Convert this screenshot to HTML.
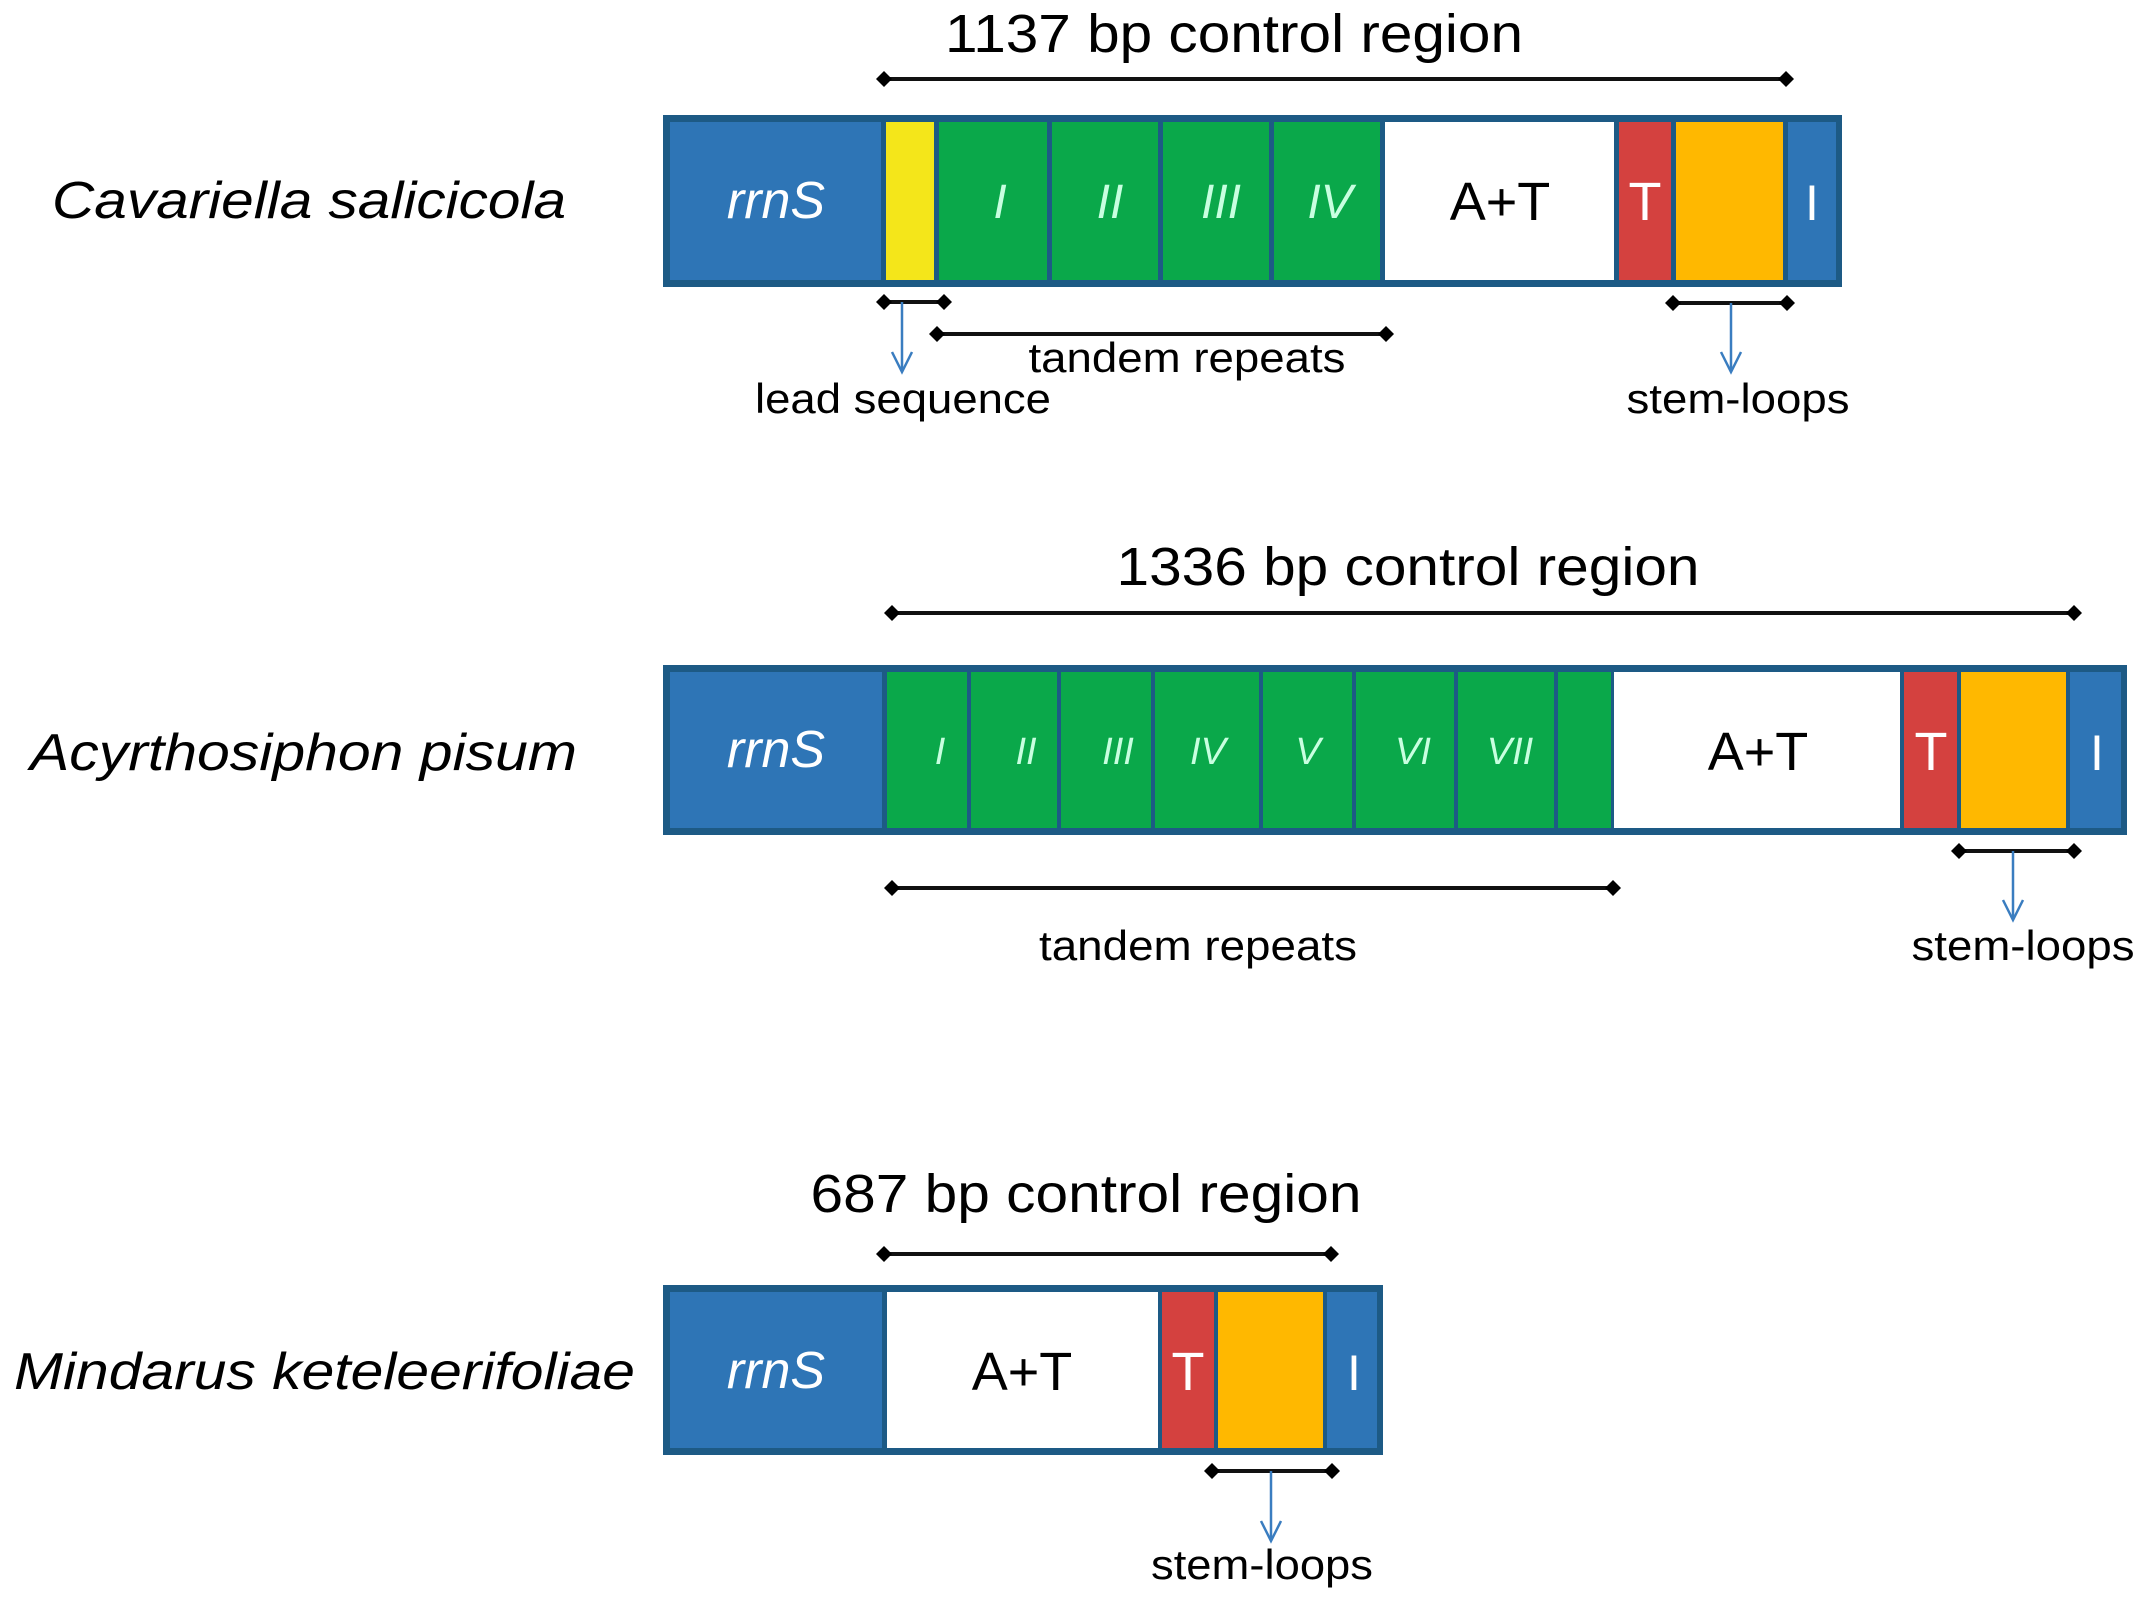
<!DOCTYPE html>
<html><head><meta charset="utf-8"><style>
html,body{margin:0;padding:0;background:#fff;}
svg{display:block;}
text{font-family:"Liberation Sans",Arial,sans-serif;}
</style></head><body>
<svg width="2149" height="1605" viewBox="0 0 2149 1605" xmlns="http://www.w3.org/2000/svg">
<defs>
<marker id="dot" viewBox="0 0 10 10" refX="5" refY="5" markerWidth="4" markerHeight="4"><path d="M5 0 L10 5 L5 10 L0 5 Z" fill="#000"/></marker>
</defs>
<g font-family="Liberation Sans, Arial, sans-serif">

<!-- ROW 1 -->
<text x="1234" y="52" font-size="54" text-anchor="middle" textLength="578" lengthAdjust="spacingAndGlyphs">1137 bp control region</text>
<line x1="884" y1="79" x2="1786" y2="79" stroke="#111" stroke-width="4" marker-start="url(#dot)" marker-end="url(#dot)"/>
<rect x="663" y="115" width="1179" height="172" fill="#1d5a85"/>
<rect x="670" y="122" width="211" height="158" fill="#2e75b6"/>
<rect x="886" y="122" width="48" height="158" fill="#f4e61a"/>
<rect x="939" y="122" width="108" height="158" fill="#0aa84a"/>
<rect x="1052" y="122" width="106" height="158" fill="#0aa84a"/>
<rect x="1163" y="122" width="106" height="158" fill="#0aa84a"/>
<rect x="1274" y="122" width="106" height="158" fill="#0aa84a"/>
<rect x="1385" y="122" width="229" height="158" fill="#fff"/>
<rect x="1619" y="122" width="52" height="158" fill="#d4413f"/>
<rect x="1676" y="122" width="107" height="158" fill="#ffb800"/>
<rect x="1788" y="122" width="48" height="158" fill="#2e75b6"/>
<text x="776" y="218" font-size="52" fill="#fff" font-style="italic" text-anchor="middle">rrnS</text>
<g font-size="48" fill="#c8ffe0" font-style="italic" text-anchor="middle">
<text x="1000" y="218">I</text><text x="1110" y="218">II</text><text x="1221" y="218">III</text><text x="1330" y="218">IV</text>
</g>
<text x="1500" y="220" font-size="54" text-anchor="middle">A+T</text>
<text x="1645" y="220" font-size="54" fill="#fff" text-anchor="middle">T</text>
<text x="1812" y="220" font-size="50" fill="#fff" text-anchor="middle">I</text>
<text x="52" y="218" font-size="52" font-style="italic" textLength="514" lengthAdjust="spacingAndGlyphs">Cavariella salicicola</text>
<line x1="884" y1="302" x2="944" y2="302" stroke="#111" stroke-width="4" marker-start="url(#dot)" marker-end="url(#dot)"/>
<line x1="902" y1="302" x2="902" y2="372" stroke="#3a7dc0" stroke-width="2.5"/>
<path d="M892 352 L902 372 L912 352" fill="none" stroke="#3a7dc0" stroke-width="2.5"/>
<line x1="937" y1="334" x2="1386" y2="334" stroke="#111" stroke-width="4" marker-start="url(#dot)" marker-end="url(#dot)"/>
<text x="1187" y="372" font-size="42" text-anchor="middle" textLength="317" lengthAdjust="spacingAndGlyphs">tandem repeats</text>
<text x="903" y="413" font-size="42" text-anchor="middle" textLength="296" lengthAdjust="spacingAndGlyphs">lead sequence</text>
<line x1="1673" y1="303" x2="1787" y2="303" stroke="#111" stroke-width="4" marker-start="url(#dot)" marker-end="url(#dot)"/>
<line x1="1731" y1="303" x2="1731" y2="372" stroke="#3a7dc0" stroke-width="2.5"/>
<path d="M1721 352 L1731 372 L1741 352" fill="none" stroke="#3a7dc0" stroke-width="2.5"/>
<text x="1738" y="413" font-size="42" text-anchor="middle" textLength="223" lengthAdjust="spacingAndGlyphs">stem-loops</text>

<!-- ROW 2 -->
<text x="1408" y="585" font-size="54" text-anchor="middle" textLength="583" lengthAdjust="spacingAndGlyphs">1336 bp control region</text>
<line x1="892" y1="613" x2="2074" y2="613" stroke="#111" stroke-width="4" marker-start="url(#dot)" marker-end="url(#dot)"/>
<rect x="663" y="665" width="1464" height="170" fill="#1d5a85"/>
<rect x="670" y="672" width="212" height="156" fill="#2e75b6"/>
<rect x="887" y="672" width="80" height="156" fill="#0aa84a"/>
<rect x="971" y="672" width="86" height="156" fill="#0aa84a"/>
<rect x="1061" y="672" width="90" height="156" fill="#0aa84a"/>
<rect x="1155" y="672" width="104" height="156" fill="#0aa84a"/>
<rect x="1263" y="672" width="89" height="156" fill="#0aa84a"/>
<rect x="1356" y="672" width="98" height="156" fill="#0aa84a"/>
<rect x="1458" y="672" width="96" height="156" fill="#0aa84a"/>
<rect x="1558" y="672" width="53" height="156" fill="#0aa84a"/>
<rect x="1614" y="672" width="286" height="156" fill="#fff"/>
<rect x="1904" y="672" width="53" height="156" fill="#d4413f"/>
<rect x="1961" y="672" width="105" height="156" fill="#ffb800"/>
<rect x="2070" y="672" width="51" height="156" fill="#2e75b6"/>
<text x="776" y="767" font-size="52" fill="#fff" font-style="italic" text-anchor="middle">rrnS</text>
<g font-size="38" fill="#c8ffe0" font-style="italic" text-anchor="middle">
<text x="940" y="764">I</text><text x="1026" y="764">II</text><text x="1118" y="764">III</text><text x="1208" y="764">IV</text><text x="1308" y="764">V</text><text x="1413" y="764">VI</text><text x="1510" y="764">VII</text>
</g>
<text x="1758" y="770" font-size="54" text-anchor="middle">A+T</text>
<text x="1931" y="770" font-size="54" fill="#fff" text-anchor="middle">T</text>
<text x="2097" y="770" font-size="50" fill="#fff" text-anchor="middle">I</text>
<text x="30" y="770" font-size="52" font-style="italic" textLength="547" lengthAdjust="spacingAndGlyphs">Acyrthosiphon pisum</text>
<line x1="892" y1="888" x2="1613" y2="888" stroke="#111" stroke-width="4" marker-start="url(#dot)" marker-end="url(#dot)"/>
<text x="1198" y="960" font-size="42" text-anchor="middle" textLength="318" lengthAdjust="spacingAndGlyphs">tandem repeats</text>
<line x1="1959" y1="851" x2="2074" y2="851" stroke="#111" stroke-width="4" marker-start="url(#dot)" marker-end="url(#dot)"/>
<line x1="2013" y1="851" x2="2013" y2="920" stroke="#3a7dc0" stroke-width="2.5"/>
<path d="M2003 900 L2013 920 L2023 900" fill="none" stroke="#3a7dc0" stroke-width="2.5"/>
<text x="2023" y="960" font-size="42" text-anchor="middle" textLength="223" lengthAdjust="spacingAndGlyphs">stem-loops</text>

<!-- ROW 3 -->
<text x="1086" y="1212" font-size="54" text-anchor="middle" textLength="551" lengthAdjust="spacingAndGlyphs">687 bp control region</text>
<line x1="884" y1="1254" x2="1331" y2="1254" stroke="#111" stroke-width="4" marker-start="url(#dot)" marker-end="url(#dot)"/>
<rect x="663" y="1285" width="720" height="170" fill="#1d5a85"/>
<rect x="670" y="1292" width="212" height="156" fill="#2e75b6"/>
<rect x="887" y="1292" width="271" height="156" fill="#fff"/>
<rect x="1162" y="1292" width="52" height="156" fill="#d4413f"/>
<rect x="1218" y="1292" width="105" height="156" fill="#ffb800"/>
<rect x="1327" y="1292" width="50" height="156" fill="#2e75b6"/>
<text x="776" y="1388" font-size="52" fill="#fff" font-style="italic" text-anchor="middle">rrnS</text>
<text x="1022" y="1390" font-size="54" text-anchor="middle">A+T</text>
<text x="1188" y="1390" font-size="54" fill="#fff" text-anchor="middle">T</text>
<text x="1354" y="1390" font-size="50" fill="#fff" text-anchor="middle">I</text>
<text x="14" y="1389" font-size="52" font-style="italic" textLength="621" lengthAdjust="spacingAndGlyphs">Mindarus keteleerifoliae</text>
<line x1="1212" y1="1471" x2="1332" y2="1471" stroke="#111" stroke-width="4" marker-start="url(#dot)" marker-end="url(#dot)"/>
<line x1="1271" y1="1471" x2="1271" y2="1541" stroke="#3a7dc0" stroke-width="2.5"/>
<path d="M1261 1521 L1271 1541 L1281 1521" fill="none" stroke="#3a7dc0" stroke-width="2.5"/>
<text x="1262" y="1579" font-size="42" text-anchor="middle" textLength="222" lengthAdjust="spacingAndGlyphs">stem-loops</text>
</g>
</svg>
</body></html>
